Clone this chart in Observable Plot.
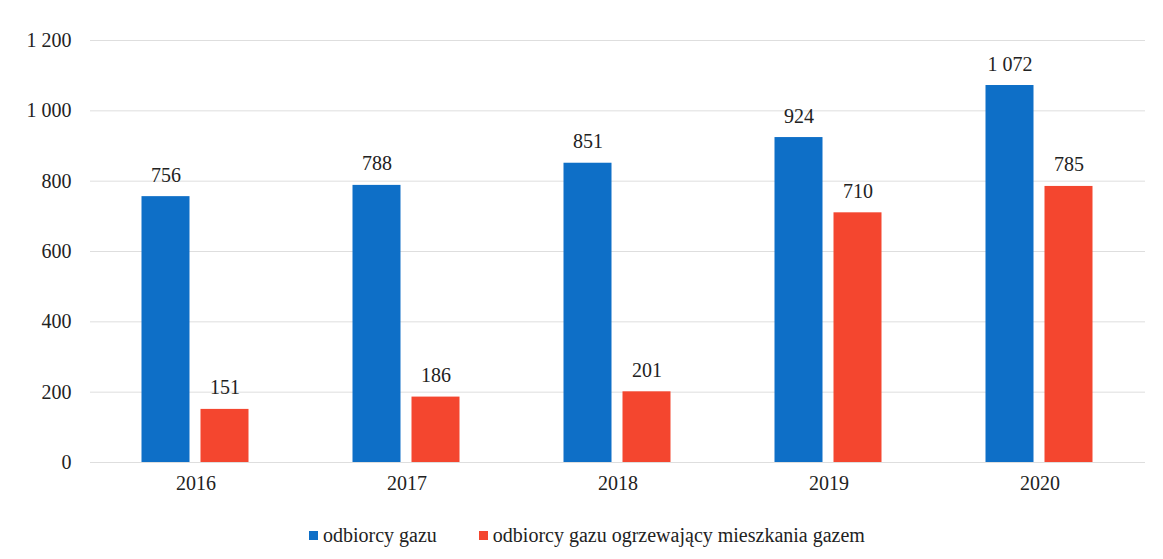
<!DOCTYPE html>
<html>
<head>
<meta charset="utf-8">
<script src="https://cdn.jsdelivr.net/npm/d3@7"></script>
<script src="https://cdn.jsdelivr.net/npm/@observablehq/plot@0.6"></script>
<style>
  html, body { margin: 0; padding: 0; background: #fff; }
  #wrap { position: relative; width: 1163px; height: 559px; font-family: "Liberation Serif", "Times New Roman", Tinos, "DejaVu Serif", serif; }
  #chart svg { display: block; }
  .legend { position: absolute; left: 309px; top: 522px; display: flex; align-items: center; font-size: 20px; line-height: 26px; color: #222; }
  .legend .item { display: flex; align-items: center; margin-right: 42px; }
  .legend .swatch { width: 9px; height: 9px; margin-right: 5px; }
</style>
</head>
<body>
<div id="wrap">
  <div id="chart"></div>
  <div class="legend" id="legend"></div>
</div>
<script>
// Gas customers per year
const years = ["2016", "2017", "2018", "2019", "2020"];
const gasCustomers = [756, 788, 851, 924, 1072];
const gasHeatingCustomers = [151, 186, 201, 710, 785];
const seriesNames = ["odbiorcy gazu", "odbiorcy gazu ogrzewający mieszkania gazem"];
const seriesColors = ["#0e6fc7", "#f4462f"];
const yTicks = [0, 200, 400, 600, 800, 1000, 1200];

const serif = "'Liberation Serif', 'Times New Roman', Tinos, 'DejaVu Serif', serif";
const fmt = d3.formatLocale({ decimal: ",", thousands: " ", grouping: [3], currency: ["", " zł"] }).format(",d");

const rows = years.flatMap((year, i) => [
  { year, series: seriesNames[0], value: gasCustomers[i] },
  { year, series: seriesNames[1], value: gasHeatingCustomers[i] }
]);

const chart = Plot.plot({
  width: 1163,
  height: 510,
  marginLeft: 89.5,
  marginRight: 17.5,
  marginTop: 40,
  marginBottom: 48,
  style: { fontFamily: serif, fontSize: "20px", color: "#222", background: "transparent" },
  fx: { domain: years, padding: 0, label: null },
  x: { domain: seriesNames, paddingInner: 0.1833, paddingOuter: 0.85, axis: null },
  y: { domain: [0, 1200], label: null },
  color: { domain: seriesNames, range: seriesColors },
  marks: [
    Plot.gridY(yTicks, { stroke: "#dedede", strokeOpacity: 1, strokeWidth: 1 }),
    Plot.axisY(yTicks, { tickSize: 0, tickPadding: 19, tickFormat: fmt, fontSize: 20, label: null }),
    Plot.axisFx({ anchor: "bottom", tickSize: 0, tickPadding: 13, fontSize: 20, label: null }),
    Plot.barY(rows, { fx: "year", x: "series", y: "value", fill: "series" }),
    Plot.text(rows, { fx: "year", x: "series", y: "value", text: d => fmt(d.value), dy: -15, lineAnchor: "bottom", fontSize: 20, fill: "#222" })
  ]
});
document.getElementById("chart").appendChild(chart);

const legend = document.getElementById("legend");
seriesNames.forEach((name, i) => {
  const item = document.createElement("div");
  item.className = "item";
  const sw = document.createElement("span");
  sw.className = "swatch";
  sw.style.background = seriesColors[i];
  const label = document.createElement("span");
  label.textContent = name;
  item.append(sw, label);
  legend.appendChild(item);
});
</script>
</body>
</html>
